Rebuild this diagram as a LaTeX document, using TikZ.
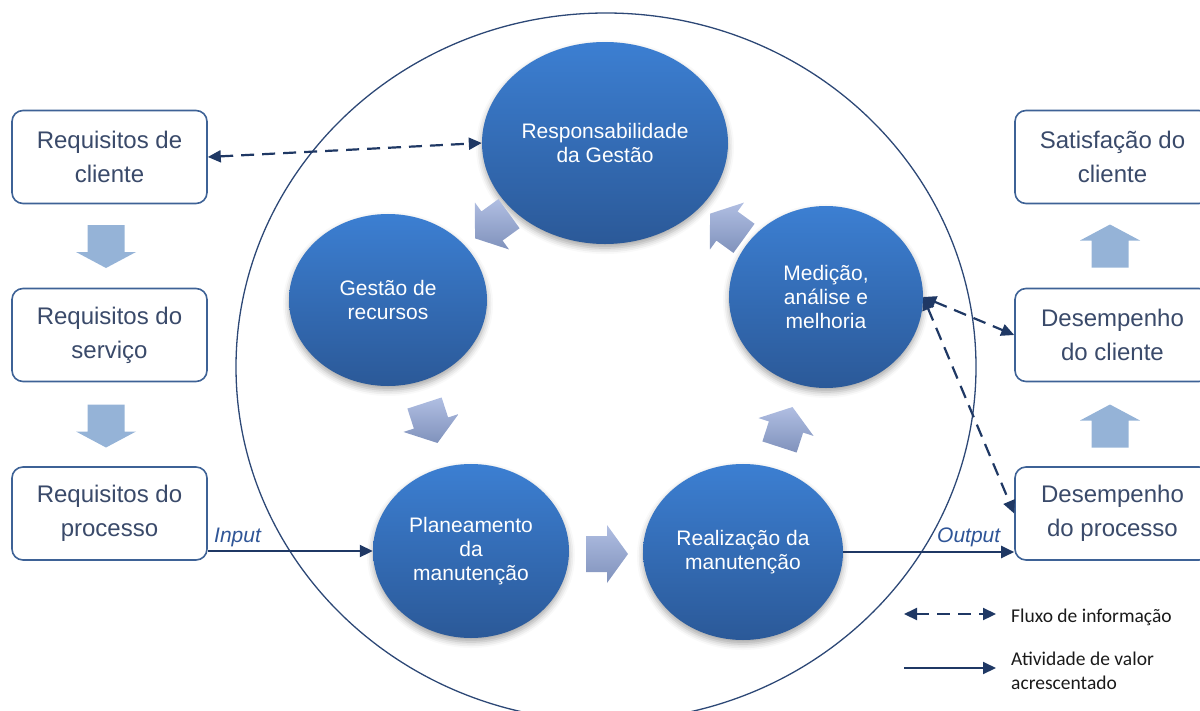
\documentclass[tikz,border=0pt]{standalone}
\usepackage{fontspec}
\setmainfont{Liberation Sans}
\newfontfamily\legendfont{Carlito}
\usetikzlibrary{arrows.meta,shapes.geometric,shadows.blur}
\definecolor{boxline}{RGB}{62,98,150}
\definecolor{boxtext}{RGB}{58,74,106}
\definecolor{navy}{RGB}{31,56,100}
\definecolor{circtop}{RGB}{60,127,210}
\definecolor{circbot}{RGB}{43,89,152}
\definecolor{chevtop}{RGB}{176,190,226}
\definecolor{chevbot}{RGB}{128,146,188}
\definecolor{sidefill}{RGB}{149,179,215}
\definecolor{ringline}{RGB}{45,72,118}
\definecolor{labelblue}{RGB}{47,85,151}
\definecolor{legendink}{RGB}{26,26,26}
\tikzset{
  sidearr/.pic={\fill[sidefill] (-21.5,-18.5) -- (5.5,-18.5) -- (5.5,-30) -- (21.5,0) -- (5.5,30) -- (5.5,18.5) -- (-21.5,18.5) -- cycle;},
  chevron/.pic={\path[top color=chevtop, bottom color=chevbot] (-21,-18) -- (0,-18) -- (0,-29) -- (21,0) -- (0,29) -- (0,18) -- (-21,18) -- cycle;}
}
\begin{document}
\begin{tikzpicture}[x=1pt,y=-1pt,
  reqbox/.style={draw=boxline, line width=1.6pt, rounded corners=11pt, fill=white,
    minimum width=195pt, minimum height=93pt, align=center, text=boxtext,
    font=\fontsize{24}{34}\selectfont, inner sep=0pt},
  bubble/.style={ellipse, inner sep=0pt, top color=circtop, bottom color=circbot,
    text=white, align=center, font=\fontsize{21}{24}\selectfont,
    blur shadow={shadow xshift=0pt, shadow yshift=-4pt, shadow blur radius=6pt, shadow opacity=35}},
  infoarrow/.style={draw=navy, line width=2.2pt, dash pattern=on 13pt off 8pt,
    {Triangle[length=13pt,width=12pt]}-{Triangle[length=13pt,width=12pt]}},
  valuearrow/.style={draw=navy, line width=2pt, -{Triangle[length=13pt,width=12pt]}},
  iolabel/.style={text=labelblue, font=\fontsize{21}{24}\selectfont\itshape, inner sep=0pt},
  legendtext/.style={text=legendink, font=\legendfont\fontsize{19.5}{24}\selectfont, inner sep=0pt, align=left}
]
\useasboundingbox (0,0) rectangle (1200,710);
\clip (0,0) rectangle (1200,710);

% outer ring
\draw[ringline, line width=1.3pt] (606,367) ellipse [x radius=370, y radius=354];

% side boxes
\node[reqbox] (rc) at (109.5,157) {Requisitos de\\cliente};
\node[reqbox] (rs) at (109.5,335) {Requisitos do\\serviço};
\node[reqbox] (rp) at (109.5,513.5) {Requisitos do\\processo};
\node[reqbox] (sc) at (1112.5,157) {Satisfação do\\cliente};
\node[reqbox] (dc) at (1112.5,335) {Desempenho\\do cliente};
\node[reqbox] (dp) at (1112.5,513.5) {Desempenho\\do processo};

% side block arrows
\pic[rotate=-90] at (106,246.5) {sidearr};
\pic[rotate=-90] at (106,426) {sidearr};
\pic[rotate=90] at (1110,246) {sidearr};
\pic[rotate=90] at (1110,426) {sidearr};

% bubbles
\node[bubble, minimum width=246pt, minimum height=202pt] (resp) at (605,143) {Responsabilidade\\da Gestão};
\node[bubble, minimum width=198pt, minimum height=172pt] (ges) at (388,300) {Gestão de\\recursos};
\node[bubble, minimum width=194pt, minimum height=182pt] (med) at (826,297) {Medição,\\análise e\\melhoria};
\node[bubble, minimum width=196pt, minimum height=174pt] (plan) at (471,551) {Planeamento\\da\\manutenção};
\node[bubble, minimum width=200pt, minimum height=176pt] (real) at (743,552) {Realização da\\manutenção};

% cycle chevrons
\pic at (607,554) {chevron};
\pic[rotate=72] at (786,427) {chevron};
\pic[rotate=144] at (727,226) {chevron};
\pic[rotate=216] at (492,226) {chevron};
\pic[rotate=288] at (431,423) {chevron};

% information flows
\draw[infoarrow] (rc.east) -- (resp.west);
\draw[infoarrow] (med.east) -- (dc.west);
\draw[infoarrow] (med.east) -- (dp.west);

% value-adding activity
\draw[valuearrow] (rp.east |- plan.west) -- (plan.west);
\node[iolabel, anchor=base west] (inlab) at (214,542) {Input};
\draw[valuearrow] (real.east) -- (dp.west |- real.east);
\node[iolabel, anchor=base west] (outlab) at (937,542) {Output};

% legend
\coordinate (l1a) at (904,614);
\coordinate (l1b) at (996,614);
\draw[infoarrow] (l1a) -- (l1b);
\coordinate (l2a) at (904,668);
\coordinate (l2b) at (996,668);
\draw[valuearrow] (l2a) -- (l2b);
\node[legendtext, anchor=west] (lt1) at (1011,617) {Fluxo de informação};
\node[legendtext, anchor=west] (lt2) at (1011,671) {Atividade de valor\\acrescentado};
\end{tikzpicture}
\end{document}
